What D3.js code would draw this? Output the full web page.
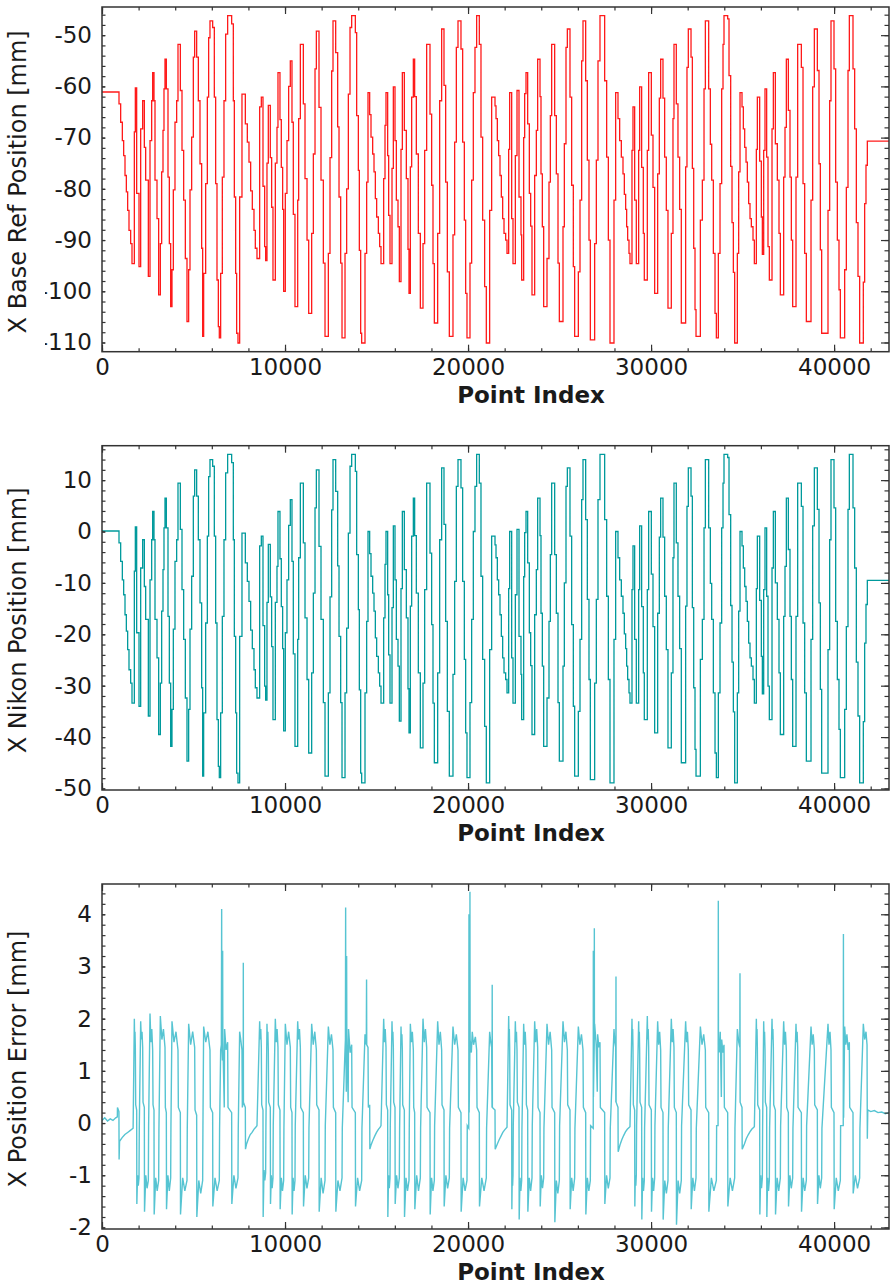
<!DOCTYPE html>
<html><head><meta charset="utf-8">
<script src="https://cdn.jsdelivr.net/npm/d3@7/dist/d3.min.js"></script>
<style>html,body{margin:0;padding:0;background:#fff;} svg text{font-family:"DejaVu Sans",sans-serif;fill:#1a1a1a;}</style>
</head><body>
<svg id="chart" width="892" height="1288"></svg>
<script>
const xTicks = [0, 10000, 20000, 30000, 40000];
const xLabel = "Point Index";
const yLabels = ["X Base Ref Position [mm]", "X Nikon Position [mm]", "X Position Error [mm]"];
const baseRefTicks = [-110, -100, -90, -80, -70, -60, -50];
const nikonTicks = [-50, -40, -30, -20, -10, 0, 10];
const errorTicks = [-2, -1, 0, 1, 2, 3, 4];

const baseRefSteps = [
[0,-61.1],[929,-63.4],[1020,-67.0],[1111,-70.6],[1184,-73.5],[1257,-77.4],[1330,-80.6],[1402,-84.2],[1475,-88.1],[1566,-90.7],[1639,-94.6],
[1767,-68.9],[1821,-60.3],[1894,-80.9],[2022,-95.2],
[2113,-68.3],[2222,-62.8],[2313,-71.9],[2386,-78.3],[2532,-97.1],
[2623,-70.6],[2714,-62.8],[2768,-57.3],[2841,-62.8],[2896,-78.3],[3005,-85.8],[3096,-100.7],
[3187,-90.7],[3260,-76.7],[3333,-68.6],[3387,-60.5],[3442,-54.7],[3515,-60.5],[3606,-77.7],[3679,-90.7],[3752,-103.0],
[3824,-95.8],[3897,-80.2],[3988,-67.0],[4079,-62.8],[4152,-51.8],[4280,-60.8],[4371,-72.5],[4462,-82.2],[4553,-93.6],[4644,-105.9],
[4735,-95.8],[4808,-80.2],[4899,-69.9],[4990,-54.3],[5063,-49.2],[5172,-54.3],[5263,-62.8],[5354,-75.1],[5445,-91.6],[5500,-108.8],
[5554,-96.5],[5664,-79.0],[5755,-62.1],[5827,-50.5],[5900,-47.2],[6046,-48.5],[6137,-62.1],[6210,-79.0],[6283,-97.8],[6356,-106.9],[6410,-109.1],
[6483,-96.5],[6574,-77.7],[6665,-62.8],[6756,-49.8],[6865,-46.2],[7084,-47.8],[7175,-62.8],[7230,-81.6],[7303,-96.5],[7357,-108.2],[7430,-110.1],
[7521,-81.6],[7648,-61.5],
[7831,-67.3],[7940,-70.9],[8031,-74.8],[8122,-80.4],[8213,-84.0],[8304,-88.1],[8377,-91.6],[8468,-93.6],
[8614,-64.0],[8705,-62.1],[8796,-79.5],[8887,-91.3],[8941,-94.0],
[9014,-75.0],[9087,-63.7],[9196,-73.9],[9269,-83.6],[9342,-97.8],
[9470,-75.0],[9561,-68.0],[9615,-57.3],[9724,-66.5],[9797,-75.8],[9870,-84.0],[9925,-100.0],
[10016,-80.9],[10107,-70.6],[10198,-60.0],[10289,-55.0],[10380,-67.0],[10453,-85.0],[10544,-103.0],
[10692,-82.2],[10746,-66.3],[10837,-51.8],[11001,-63.4],[11092,-78.0],[11202,-90.0],[11293,-104.3],
[11456,-88.7],[11548,-73.2],[11639,-56.6],[11712,-49.2],[11857,-64.1],[11966,-78.3],[12094,-94.5],[12185,-108.8],
[12367,-92.6],[12458,-73.9],[12549,-57.0],[12622,-47.2],[12768,-53.4],[12877,-67.9],[12950,-81.6],[13041,-94.5],[13114,-109.1],
[13278,-92.6],[13368,-80.0],[13460,-61.5],[13551,-48.5],[13642,-46.2],[13842,-49.5],[13915,-65.7],[14006,-76.4],[14060,-92.0],[14133,-108.2],[14188,-110.1],
[14370,-92.6],[14461,-78.7],[14534,-61.2],
[14625,-65.5],[14698,-69.9],[14789,-73.2],[14862,-76.7],[14935,-81.9],[15007,-85.5],[15099,-88.7],[15171,-91.3],[15244,-94.6],
[15390,-78.0],[15463,-67.6],[15517,-61.2],[15608,-73.5],[15663,-85.2],[15736,-94.6],
[15845,-76.0],[15918,-60.1],[16009,-70.6],[16082,-82.2],[16173,-87.4],[16246,-98.1],
[16337,-72.3],[16410,-57.3],[16519,-68.6],[16628,-78.0],[16719,-91.8],[16774,-100.4],
[16847,-75.7],[16920,-62.1],[17011,-54.7],[17083,-62.0],[17174,-73.2],[17283,-88.7],[17393,-103.3],
[17539,-90.7],[17630,-72.5],[17739,-51.8],[17921,-65.4],[18012,-79.3],[18085,-94.6],[18158,-106.2],
[18340,-88.7],[18449,-62.8],[18558,-48.8],[18686,-59.8],[18777,-78.7],[18868,-96.2],[18977,-108.8],
[19177,-89.0],[19268,-70.9],[19360,-52.4],[19451,-47.2],[19614,-52.7],[19705,-70.9],[19797,-86.1],[19869,-100.4],[19942,-109.1],
[20106,-94.5],[20197,-78.3],[20288,-61.2],[20379,-52.4],[20470,-46.2],[20616,-51.8],[20707,-69.9],[20798,-86.1],[20907,-99.1],[20998,-110.1],
[21181,-84.2],[21290,-62.1],
[21473,-63.8],[21528,-66.3],[21600,-70.6],[21673,-73.5],[21746,-77.4],[21819,-81.6],[21892,-85.8],[21965,-88.7],[22056,-90.0],[22129,-92.6],
[22220,-72.3],[22274,-61.2],[22384,-85.8],[22456,-94.6],
[22584,-73.5],[22675,-60.8],[22784,-81.6],[22893,-89.0],[22930,-97.8],
[23039,-70.0],[23094,-61.4],[23167,-57.3],[23258,-67.3],[23349,-80.9],[23422,-87.3],[23494,-100.7],
[23640,-77.4],[23731,-68.6],[23804,-54.7],[23932,-62.0],[23986,-77.1],[24059,-87.4],[24132,-103.0],
[24314,-93.6],[24423,-78.7],[24496,-65.7],[24569,-51.8],[24733,-65.7],[24824,-77.1],[24915,-94.5],[24988,-105.9],
[25188,-87.4],[25261,-71.2],[25352,-52.4],[25425,-48.8],[25570,-62.1],[25661,-79.3],[25752,-95.2],[25825,-108.8],
[26026,-96.2],[26117,-82.2],[26208,-55.0],[26281,-47.2],[26427,-58.9],[26517,-74.4],[26608,-90.0],[26681,-109.5],
[26918,-90.7],[27009,-74.4],[27100,-55.0],[27209,-46.2],[27464,-58.9],[27574,-73.8],[27665,-90.0],[27756,-110.1],
[27974,-82.2],[28065,-61.2],
[28193,-66.3],[28284,-70.6],[28375,-73.8],[28466,-77.1],[28539,-81.1],[28611,-84.0],[28666,-87.4],[28721,-90.0],[28794,-92.6],[28848,-94.6],
[28957,-72.5],[29012,-64.0],[29103,-82.2],[29194,-94.6],
[29322,-72.5],[29376,-60.1],[29485,-75.8],[29576,-88.7],[29631,-97.8],
[29795,-72.5],[29868,-57.3],[30014,-69.5],[30105,-79.7],[30196,-100.4],
[30360,-77.1],[30451,-62.3],[30524,-54.7],[30651,-62.3],[30742,-73.8],[30833,-84.2],[30924,-103.3],
[31106,-88.7],[31197,-66.3],[31252,-51.8],[31379,-63.4],[31470,-73.8],[31561,-84.0],[31652,-106.2],
[31889,-75.7],[31962,-56.3],[32035,-48.8],[32183,-54.3],[32256,-76.0],[32329,-91.6],[32401,-103.6],[32456,-108.8],
[32693,-86.1],[32802,-78.3],[32893,-60.5],[32966,-47.2],[33148,-60.5],[33239,-71.3],[33312,-78.3],[33403,-92.6],[33494,-104.3],[33567,-109.1],
[33676,-92.6],[33767,-79.0],[33858,-60.5],[33931,-51.8],[33985,-46.2],[34186,-46.8],[34259,-57.9],[34350,-75.6],[34423,-86.6],[34496,-96.3],[34568,-110.1],
[34714,-92.6],[34787,-76.7],[34860,-61.2],
[34969,-64.0],[35042,-68.3],[35115,-71.9],[35188,-74.8],[35260,-78.7],[35333,-82.9],[35406,-85.8],[35479,-87.4],[35570,-90.0],[35643,-94.6],
[35752,-72.3],[35807,-62.1],[35934,-74.6],[36025,-85.5],[36080,-92.8],
[36153,-72.5],[36225,-60.5],[36316,-73.8],[36389,-91.3],[36462,-97.8],
[36608,-68.3],[36681,-57.3],[36790,-71.2],[36899,-78.3],[36990,-88.7],[37063,-100.7],
[37245,-77.7],[37318,-68.0],[37391,-54.7],[37500,-64.7],[37591,-77.7],[37664,-90.0],[37737,-103.0],
[37919,-77.7],[38010,-51.8],[38211,-56.3],[38302,-79.0],[38393,-92.6],[38484,-105.9],
[38739,-82.2],[38830,-60.1],[38921,-48.8],[39085,-56.9],[39176,-75.1],[39248,-91.9],[39321,-108.2],
[39667,-84.2],[39758,-62.8],[39831,-47.2],[39995,-56.6],[40086,-78.7],[40177,-90.0],[40268,-99.7],[40341,-109.1],
[40578,-95.8],[40669,-79.7],[40760,-56.9],[40833,-46.2],[41033,-56.6],[41124,-68.3],[41215,-86.6],[41306,-97.1],[41397,-110.1],
[41597,-98.2],[41670,-82.9],[41743,-75.4],[41816,-70.7],[43000,-70.7]
];

const nikonSteps = [
[0,0.1],[929,-2.2],[1020,-5.8],[1111,-9.4],[1184,-12.3],[1257,-16.2],[1330,-19.4],[1402,-23.0],[1475,-26.9],[1566,-29.5],[1639,-33.4],
[1767,-7.7],[1821,0.9],[1894,-19.7],[2022,-34.0],
[2113,-7.1],[2222,-1.6],[2313,-10.7],[2386,-17.1],[2532,-35.9],
[2623,-9.4],[2714,-1.6],[2768,3.9],[2841,-1.6],[2896,-17.1],[3005,-24.6],[3096,-39.5],
[3187,-29.5],[3260,-15.5],[3333,-7.4],[3387,0.7],[3442,6.5],[3515,0.7],[3606,-16.5],[3679,-29.5],[3752,-41.8],
[3824,-34.6],[3897,-19.0],[3988,-5.8],[4079,-1.6],[4152,9.4],[4280,0.4],[4371,-11.3],[4462,-21.0],[4553,-32.4],[4644,-44.7],
[4735,-34.6],[4808,-19.0],[4899,-8.7],[4990,6.9],[5063,12.0],[5172,6.9],[5263,-1.6],[5354,-13.9],[5445,-30.4],[5500,-47.6],
[5554,-35.3],[5664,-17.8],[5755,-0.9],[5827,10.7],[5900,14.0],[6046,12.7],[6137,-0.9],[6210,-17.8],[6283,-36.6],[6356,-45.7],[6410,-47.9],
[6483,-35.3],[6574,-16.5],[6665,-1.6],[6756,11.4],[6865,15.0],[7084,13.4],[7175,-1.6],[7230,-20.4],[7303,-35.3],[7357,-47.0],[7430,-48.9],
[7521,-20.4],[7648,-0.3],
[7831,-6.1],[7940,-9.7],[8031,-13.6],[8122,-19.2],[8213,-22.8],[8304,-26.9],[8377,-30.4],[8468,-32.4],
[8614,-2.8],[8705,-0.9],[8796,-18.3],[8887,-30.1],[8941,-32.8],
[9014,-13.8],[9087,-2.5],[9196,-12.7],[9269,-22.4],[9342,-36.6],
[9470,-13.8],[9561,-6.8],[9615,3.9],[9724,-5.3],[9797,-14.6],[9870,-22.8],[9925,-38.8],
[10016,-19.7],[10107,-9.4],[10198,1.2],[10289,6.2],[10380,-5.8],[10453,-23.8],[10544,-41.8],
[10692,-21.0],[10746,-5.1],[10837,9.4],[11001,-2.2],[11092,-16.8],[11202,-28.8],[11293,-43.1],
[11456,-27.5],[11548,-12.0],[11639,4.6],[11712,12.0],[11857,-2.9],[11966,-17.1],[12094,-33.3],[12185,-47.6],
[12367,-31.4],[12458,-12.7],[12549,4.2],[12622,14.0],[12768,7.8],[12877,-6.7],[12950,-20.4],[13041,-33.3],[13114,-47.9],
[13278,-31.4],[13368,-18.8],[13460,-0.3],[13551,12.7],[13642,15.0],[13842,11.7],[13915,-4.5],[14006,-15.2],[14060,-30.8],[14133,-47.0],[14188,-48.9],
[14370,-31.4],[14461,-17.5],[14534,0.0],
[14625,-4.3],[14698,-8.7],[14789,-12.0],[14862,-15.5],[14935,-20.7],[15007,-24.3],[15099,-27.5],[15171,-30.1],[15244,-33.4],
[15390,-16.8],[15463,-6.4],[15517,0.0],[15608,-12.3],[15663,-24.0],[15736,-33.4],
[15845,-14.8],[15918,1.1],[16009,-9.4],[16082,-21.0],[16173,-26.2],[16246,-36.9],
[16337,-11.1],[16410,3.9],[16519,-7.4],[16628,-16.8],[16719,-30.6],[16774,-39.2],
[16847,-14.5],[16920,-0.9],[17011,6.5],[17083,-0.8],[17174,-12.0],[17283,-27.5],[17393,-42.1],
[17539,-29.5],[17630,-11.3],[17739,9.4],[17921,-4.2],[18012,-18.1],[18085,-33.4],[18158,-45.0],
[18340,-27.5],[18449,-1.6],[18558,12.4],[18686,1.4],[18777,-17.5],[18868,-35.0],[18977,-47.6],
[19177,-27.8],[19268,-9.7],[19360,8.8],[19451,14.0],[19614,8.5],[19705,-9.7],[19797,-24.9],[19869,-39.2],[19942,-47.9],
[20106,-33.3],[20197,-17.1],[20288,0.0],[20379,8.8],[20470,15.0],[20616,9.4],[20707,-8.7],[20798,-24.9],[20907,-37.9],[20998,-48.9],
[21181,-23.0],[21290,-0.9],
[21473,-2.6],[21528,-5.1],[21600,-9.4],[21673,-12.3],[21746,-16.2],[21819,-20.4],[21892,-24.6],[21965,-27.5],[22056,-28.8],[22129,-31.4],
[22220,-11.1],[22274,0.0],[22384,-24.6],[22456,-33.4],
[22584,-12.3],[22675,0.4],[22784,-20.4],[22893,-27.8],[22930,-36.6],
[23039,-8.8],[23094,-0.2],[23167,3.9],[23258,-6.1],[23349,-19.7],[23422,-26.1],[23494,-39.5],
[23640,-16.2],[23731,-7.4],[23804,6.5],[23932,-0.8],[23986,-15.9],[24059,-26.2],[24132,-41.8],
[24314,-32.4],[24423,-17.5],[24496,-4.5],[24569,9.4],[24733,-4.5],[24824,-15.9],[24915,-33.3],[24988,-44.7],
[25188,-26.2],[25261,-10.0],[25352,8.8],[25425,12.4],[25570,-0.9],[25661,-18.1],[25752,-34.0],[25825,-47.6],
[26026,-35.0],[26117,-21.0],[26208,6.2],[26281,14.0],[26427,2.3],[26517,-13.2],[26608,-28.8],[26681,-48.3],
[26918,-29.5],[27009,-13.2],[27100,6.2],[27209,15.0],[27464,2.3],[27574,-12.6],[27665,-28.8],[27756,-48.9],
[27974,-21.0],[28065,0.0],
[28193,-5.1],[28284,-9.4],[28375,-12.6],[28466,-15.9],[28539,-19.9],[28611,-22.8],[28666,-26.2],[28721,-28.8],[28794,-31.4],[28848,-33.4],
[28957,-11.3],[29012,-2.8],[29103,-21.0],[29194,-33.4],
[29322,-11.3],[29376,1.1],[29485,-14.6],[29576,-27.5],[29631,-36.6],
[29795,-11.3],[29868,3.9],[30014,-8.3],[30105,-18.5],[30196,-39.2],
[30360,-15.9],[30451,-1.1],[30524,6.5],[30651,-1.1],[30742,-12.6],[30833,-23.0],[30924,-42.1],
[31106,-27.5],[31197,-5.1],[31252,9.4],[31379,-2.2],[31470,-12.6],[31561,-22.8],[31652,-45.0],
[31889,-14.5],[31962,4.9],[32035,12.4],[32183,6.9],[32256,-14.8],[32329,-30.4],[32401,-42.4],[32456,-47.6],
[32693,-24.9],[32802,-17.1],[32893,0.7],[32966,14.0],[33148,0.7],[33239,-10.1],[33312,-17.1],[33403,-31.4],[33494,-43.1],[33567,-47.9],
[33676,-31.4],[33767,-17.8],[33858,0.7],[33931,9.4],[33985,15.0],[34186,14.4],[34259,3.3],[34350,-14.4],[34423,-25.4],[34496,-35.1],[34568,-48.9],
[34714,-31.4],[34787,-15.5],[34860,0.0],
[34969,-2.8],[35042,-7.1],[35115,-10.7],[35188,-13.6],[35260,-17.5],[35333,-21.7],[35406,-24.6],[35479,-26.2],[35570,-28.8],[35643,-33.4],
[35752,-11.1],[35807,-0.9],[35934,-13.4],[36025,-24.3],[36080,-31.6],
[36153,-11.3],[36225,0.7],[36316,-12.6],[36389,-30.1],[36462,-36.6],
[36608,-7.1],[36681,3.9],[36790,-10.0],[36899,-17.1],[36990,-27.5],[37063,-39.5],
[37245,-16.5],[37318,-6.8],[37391,6.5],[37500,-3.5],[37591,-16.5],[37664,-28.8],[37737,-41.8],
[37919,-16.5],[38010,9.4],[38211,4.9],[38302,-17.8],[38393,-31.4],[38484,-44.7],
[38739,-21.0],[38830,1.1],[38921,12.4],[39085,4.3],[39176,-13.9],[39248,-30.7],[39321,-47.0],
[39667,-23.0],[39758,-1.6],[39831,14.0],[39995,4.6],[40086,-17.5],[40177,-28.8],[40268,-38.5],[40341,-47.9],
[40578,-34.6],[40669,-18.5],[40760,4.3],[40833,15.0],[41033,4.6],[41124,-7.1],[41215,-25.4],[41306,-35.9],[41397,-48.9],
[41597,-37.0],[41670,-21.7],[41743,-14.2],[41816,-9.5],[43000,-9.5]
];

const errorPoints = [
[0,0.05],[150,0.1],[300,0.04],[450,0.08],[600,0.05],[750,0.1],[838,0.12],[845,0.3],[925,0.22],[935,-0.7],[960,-0.35],[1100,-0.28],[1250,-0.22],[1400,-0.18],[1550,-0.14],[1700,-0.1],
[1767,2.0],[1785,1.55],[1803,1.75],[1821,1.45],[1841,0.35],[1894,0.25],[1904,-1.55],[1943,-1.0],[1982,-1.2],[2022,-1.05],[2037,-0.1],
[2113,1.95],[2150,1.6],[2186,1.75],[2222,1.45],[2242,0.4],[2313,0.3],[2323,-1.7],[2393,-1.0],[2463,-1.25],[2532,-1.1],[2547,-0.05],
[2623,2.1],[2671,1.55],[2720,1.8],[2768,1.4],[2788,0.35],[2841,0.25],[2851,-1.75],[2933,-1.05],[3015,-1.3],[3096,-1.1],[3111,-0.1],
[3187,2.05],[3272,1.6],[3357,1.8],[3442,1.45],[3462,0.3],[3515,0.2],[3525,-1.65],[3601,-1.0],[3677,-1.3],[3752,-1.05],[3767,-0.05],
[3824,1.95],[3933,1.55],[4043,1.75],[4152,1.4],[4172,0.3],[4280,0.2],[4290,-1.75],[4408,-1.05],[4526,-1.3],[4644,-1.1],[4659,-0.1],
[4735,1.9],[4844,1.5],[4954,1.75],[5063,1.45],[5083,0.25],[5172,0.15],[5182,-1.8],[5288,-1.1],[5394,-1.35],[5500,-1.1],[5515,-0.05],
[5554,1.85],[5669,1.55],[5785,1.75],[5900,1.4],[5920,0.3],[6046,0.2],[6056,-1.6],[6174,-1.05],[6292,-1.3],[6410,-1.1],[6425,-0.1],
[6483,1.4],[6520,1.5],[6538,4.1],[6548,1.5],[6580,1.2],[6592,3.3],[6602,1.6],[6680,0.3],[6700,1.8],[6780,1.4],[6865,1.55],[6885,0.3],[7084,0.2],[7094,-1.55],[7206,-1.0],[7318,-1.25],[7430,-1.05],[7445,-0.1],
[7521,1.75],[7580,1.6],[7648,1.4],[7668,0.3],[7715,0.4],[7721,3.07],[7727,0.4],[7831,0.3],[7840,-0.5],[7900,-0.4],[8000,-0.3],[8100,-0.22],[8200,-0.18],[8300,-0.12],[8400,-0.08],[8468,-0.05],
[8614,1.95],[8644,1.6],[8675,1.8],[8705,1.45],[8725,0.35],[8796,0.25],[8806,-1.8],[8851,-0.9],[8896,-1.1],[8941,-0.95],[8956,-0.05],
[9014,1.9],[9038,1.55],[9063,1.75],[9087,1.4],[9107,0.4],[9196,0.3],[9206,-1.55],[9251,-1.0],[9297,-1.25],[9342,-1.05],[9357,-0.05],
[9470,2.0],[9518,1.55],[9567,1.8],[9615,1.45],[9635,0.35],[9724,0.25],[9734,-1.65],[9798,-1.05],[9861,-1.3],[9925,-1.1],[9940,-0.1],
[10016,1.9],[10107,1.5],[10198,1.75],[10289,1.45],[10309,0.3],[10380,0.2],[10390,-1.75],[10441,-1.05],[10493,-1.3],[10544,-1.1],[10559,-0.05],
[10692,1.95],[10740,1.6],[10789,1.8],[10837,1.45],[10857,0.3],[11001,0.2],[11011,-1.6],[11105,-1.0],[11199,-1.25],[11293,-1.05],[11308,-0.1],
[11456,1.9],[11541,1.5],[11627,1.75],[11712,1.4],[11732,0.35],[11857,0.25],[11867,-1.7],[11973,-1.05],[12079,-1.35],[12185,-1.1],[12200,-0.05],
[12367,1.85],[12452,1.5],[12537,1.7],[12622,1.4],[12642,0.3],[12768,0.2],[12778,-1.7],[12890,-1.1],[13002,-1.3],[13114,-1.05],[13129,-0.1],
[13278,1.4],[13300,1.6],[13312,4.13],[13322,1.5],[13350,0.6],[13366,3.2],[13376,1.7],[13450,0.4],[13470,1.8],[13560,1.35],[13642,1.5],[13662,0.3],[13842,0.2],[13852,-1.6],[13964,-1.05],[14076,-1.3],[14188,-1.1],[14203,-0.1],
[14370,1.7],[14440,1.5],[14455,2.75],[14465,1.5],[14534,1.45],[14554,0.3],[14625,0.35],[14635,-0.5],[14700,-0.42],[14800,-0.33],[14900,-0.25],[15000,-0.18],[15100,-0.12],[15200,-0.08],[15244,-0.05],
[15390,2.0],[15432,1.55],[15475,1.8],[15517,1.45],[15537,0.35],[15608,0.25],[15618,-1.8],[15657,-1.0],[15697,-1.25],[15736,-1.05],[15751,-0.05],
[15845,1.95],[15869,1.6],[15894,1.75],[15918,1.45],[15938,0.4],[16009,0.3],[16019,-1.55],[16095,-1.0],[16170,-1.25],[16246,-1.05],[16261,-0.1],
[16337,1.85],[16361,1.5],[16386,1.7],[16410,1.4],[16430,0.35],[16519,0.25],[16529,-1.8],[16611,-1.05],[16692,-1.3],[16774,-1.1],[16789,-0.05],
[16847,1.9],[16902,1.55],[16956,1.75],[17011,1.4],[17031,0.3],[17083,0.2],[17093,-1.65],[17193,-1.0],[17293,-1.3],[17393,-1.05],[17408,-0.1],
[17539,2.0],[17606,1.55],[17672,1.8],[17739,1.45],[17759,0.3],[17921,0.2],[17931,-1.75],[18007,-1.05],[18082,-1.3],[18158,-1.1],[18173,-0.05],
[18340,1.95],[18413,1.5],[18485,1.75],[18558,1.4],[18578,0.35],[18686,0.25],[18696,-1.6],[18790,-1.0],[18883,-1.25],[18977,-1.05],[18992,-0.1],
[19177,1.85],[19268,1.5],[19360,1.7],[19451,1.4],[19471,0.3],[19614,0.2],[19624,-1.7],[19730,-1.05],[19836,-1.3],[19942,-1.1],[19957,-0.05],
[20040,-0.1],[20050,4.0],[20060,0.2],[20100,1.4],[20104,4.43],[20112,1.6],[20180,1.35],[20230,1.75],[20300,1.5],[20400,1.65],[20470,1.4],[20490,0.3],[20616,0.2],[20626,-1.6],[20750,-1.05],[20874,-1.3],[20998,-1.05],[21013,-0.1],
[21181,1.75],[21240,1.55],[21290,1.45],[21310,0.3],[21320,2.65],[21330,0.3],[21473,0.25],[21483,-0.5],[21600,-0.4],[21700,-0.32],[21800,-0.25],[21900,-0.18],[22000,-0.13],[22129,-0.08],
[22220,2.05],[22238,1.6],[22256,1.8],[22274,1.45],[22294,0.35],[22384,0.25],[22394,-1.65],[22415,-1.0],[22435,-1.2],[22456,-1.0],[22471,-0.05],
[22584,1.95],[22614,1.55],[22645,1.75],[22675,1.4],[22695,0.4],[22784,0.3],[22794,-1.85],[22839,-1.05],[22885,-1.3],[22930,-1.1],[22945,-0.1],
[23039,1.9],[23082,1.5],[23124,1.75],[23167,1.4],[23187,0.35],[23258,0.25],[23268,-1.7],[23343,-1.05],[23419,-1.3],[23494,-1.05],[23509,-0.05],
[23640,1.95],[23695,1.55],[23749,1.8],[23804,1.45],[23824,0.3],[23932,0.2],[23942,-1.6],[24005,-1.0],[24069,-1.25],[24132,-1.05],[24147,-0.1],
[24314,1.9],[24399,1.5],[24484,1.75],[24569,1.4],[24589,0.3],[24733,0.2],[24743,-1.9],[24825,-1.1],[24906,-1.35],[24988,-1.1],[25003,-0.05],
[25188,1.95],[25267,1.55],[25346,1.75],[25425,1.4],[25445,0.35],[25570,0.25],[25580,-1.65],[25662,-1.05],[25743,-1.3],[25825,-1.05],[25840,-0.1],
[26026,1.85],[26111,1.5],[26196,1.7],[26281,1.4],[26301,0.3],[26427,0.2],[26437,-1.75],[26518,-1.05],[26600,-1.3],[26681,-1.1],[26696,-0.05],
[26840,-0.1],[26845,3.3],[26850,0.5],[26895,1.5],[26900,3.73],[26906,1.6],[26918,1.9],[27000,1.5],[27060,0.6],[27080,1.7],[27150,1.45],[27209,1.55],[27229,0.3],[27464,0.2],[27474,-1.55],[27568,-1.0],[27662,-1.25],[27756,-1.05],[27771,-0.1],
[27974,1.8],[28020,1.55],[28065,1.45],[28075,0.4],[28083,2.81],[28090,0.4],[28193,0.3],[28203,-0.55],[28300,-0.42],[28400,-0.32],[28500,-0.24],[28600,-0.17],[28700,-0.12],[28848,-0.07],
[28957,2.0],[28975,1.6],[28994,1.8],[29012,1.45],[29032,0.35],[29103,0.25],[29113,-1.6],[29140,-1.0],[29167,-1.2],[29194,-1.0],[29209,-0.05],
[29322,1.95],[29340,1.55],[29358,1.75],[29376,1.4],[29396,0.4],[29485,0.3],[29495,-1.85],[29540,-1.05],[29586,-1.3],[29631,-1.1],[29646,-0.1],
[29795,2.05],[29819,1.6],[29844,1.8],[29868,1.45],[29888,0.35],[30014,0.25],[30024,-1.7],[30081,-1.05],[30139,-1.3],[30196,-1.05],[30211,-0.05],
[30360,1.95],[30415,1.5],[30469,1.75],[30524,1.4],[30544,0.3],[30651,0.2],[30661,-1.85],[30749,-1.1],[30836,-1.35],[30924,-1.1],[30939,-0.1],
[31106,2.0],[31155,1.55],[31203,1.8],[31252,1.45],[31272,0.3],[31379,0.2],[31389,-1.95],[31477,-1.1],[31564,-1.35],[31652,-1.1],[31667,-0.05],
[31889,1.95],[31938,1.55],[31986,1.75],[32035,1.4],[32055,0.35],[32183,0.25],[32193,-1.65],[32281,-1.05],[32368,-1.3],[32456,-1.05],[32471,-0.1],
[32693,1.85],[32784,1.5],[32875,1.7],[32966,1.4],[32986,0.3],[33148,0.2],[33158,-1.7],[33294,-1.05],[33431,-1.3],[33567,-1.1],[33582,-0.05],
[33660,-0.05],[33668,1.5],[33674,4.26],[33682,1.6],[33720,1.35],[33780,1.75],[33840,0.5],[33860,1.6],[33920,1.35],[33985,1.5],[34005,0.3],[34186,0.2],[34196,-1.6],[34320,-1.05],[34444,-1.3],[34568,-1.05],[34583,-0.1],
[34714,1.8],[34790,1.55],[34850,1.45],[34858,2.87],[34866,0.4],[34969,0.3],[34979,-0.5],[35100,-0.4],[35200,-0.3],[35300,-0.23],[35400,-0.17],[35500,-0.12],[35643,-0.07],
[35752,2.0],[35770,1.6],[35789,1.8],[35807,1.45],[35827,0.35],[35934,0.25],[35944,-1.75],[35989,-1.0],[36035,-1.25],[36080,-1.05],[36095,-0.05],
[36153,1.95],[36177,1.55],[36201,1.75],[36225,1.4],[36245,0.4],[36316,0.3],[36326,-1.8],[36371,-1.05],[36417,-1.3],[36462,-1.1],[36477,-0.1],
[36608,2.0],[36632,1.6],[36657,1.8],[36681,1.45],[36701,0.35],[36790,0.25],[36800,-1.75],[36888,-1.05],[36975,-1.3],[37063,-1.05],[37078,-0.05],
[37245,1.95],[37294,1.5],[37342,1.75],[37391,1.4],[37411,0.3],[37500,0.2],[37510,-1.6],[37586,-1.0],[37661,-1.25],[37737,-1.05],[37752,-0.1],
[37919,1.9],[37949,1.55],[37980,1.75],[38010,1.45],[38030,0.3],[38211,0.2],[38221,-1.7],[38309,-1.05],[38396,-1.3],[38484,-1.1],[38499,-0.05],
[38739,1.85],[38800,1.5],[38860,1.7],[38921,1.4],[38941,0.35],[39085,0.25],[39095,-1.55],[39170,-1.0],[39246,-1.25],[39321,-1.05],[39336,-0.1],
[39667,1.9],[39722,1.5],[39776,1.75],[39831,1.4],[39851,0.3],[39995,0.2],[40005,-1.65],[40117,-1.05],[40229,-1.3],[40341,-1.1],[40356,-0.05],
[40500,-0.05],[40510,3.62],[40520,0.1],[40578,1.85],[40640,1.5],[40700,1.7],[40770,1.4],[40833,1.55],[40853,0.3],[41033,0.2],[41043,-1.35],[41161,-1.0],[41279,-1.25],[41397,-1.05],[41412,-0.1],
[41597,1.9],[41670,1.6],[41743,1.75],[41800,1.5],[41816,-0.3],[41840,0.25],[42000,0.22],[42200,0.24],[42400,0.2],[42600,0.21],[42800,0.18],[43000,0.2]
];

const svg = d3.select('#chart');
const L = 102, R = 889;
const x = d3.scaleLinear().domain([0, 43000]).range([L, R]);
const fmt = d => String(d);

const panels = [
  {top: 7, bottom: 351.7, domain: [-111.8, -44.5], ticks: baseRefTicks, minor: 2, color: '#ff1a1a', width: 1.3, label: yLabels[0], pts: baseRefSteps, curve: d3.curveStepAfter},
  {top: 445.7, bottom: 790, domain: [-50.3, 16.7], ticks: nikonTicks, minor: 2, color: '#009a9c', width: 1.3, label: yLabels[1], pts: nikonSteps, curve: d3.curveStepAfter},
  {top: 884, bottom: 1229, domain: [-2.03, 4.58], ticks: errorTicks, minor: 0.2, color: '#56c4d2', width: 1.4, label: yLabels[2], pts: errorPoints, curve: d3.curveLinear}
];

svg.append('clipPath').attr('id', 'labelClip').append('rect')
  .attr('x', 45).attr('y', 0).attr('width', 60).attr('height', 1288);

panels.forEach((p, i) => {
  const y = d3.scaleLinear().domain(p.domain).range([p.bottom, p.top]);
  const g = svg.append('g');
  const cid = 'clip' + i;
  svg.append('clipPath').attr('id', cid).append('rect')
    .attr('x', L).attr('y', p.top).attr('width', R - L).attr('height', p.bottom - p.top);

  g.append('path').datum(p.pts)
    .attr('clip-path', `url(#${cid})`)
    .attr('fill', 'none').attr('stroke', p.color).attr('stroke-width', p.width)
    .attr('stroke-linejoin', 'miter')
    .attr('d', d3.line().x(d => x(d[0])).y(d => y(d[1])).curve(p.curve));

  const xMinor = d3.range(0, 43001, 2000);
  const yMinor = d3.range(Math.ceil(p.domain[0] / p.minor) * p.minor, p.domain[1], p.minor).map(v => +v.toFixed(3));

  const styleAxis = sel => { sel.select('.domain').remove(); sel.selectAll('line').attr('stroke', '#333').attr('stroke-width', 1.2); };

  // bottom
  g.append('g').attr('transform', `translate(0,${p.bottom})`)
    .call(d3.axisBottom(x).tickValues(xMinor).tickSize(-3.5).tickFormat('')).call(styleAxis);
  g.append('g').attr('transform', `translate(0,${p.bottom})`)
    .call(d3.axisBottom(x).tickValues(xTicks).tickSize(-7).tickPadding(7).tickFormat(fmt)).call(styleAxis)
    .selectAll('text').style('font-size', '23px').attr('fill', '#1a1a1a');
  // top
  g.append('g').attr('transform', `translate(0,${p.top})`)
    .call(d3.axisTop(x).tickValues(xMinor).tickSize(-3.5).tickFormat('')).call(styleAxis);
  g.append('g').attr('transform', `translate(0,${p.top})`)
    .call(d3.axisTop(x).tickValues(xTicks).tickSize(-7).tickFormat('')).call(styleAxis);
  // left
  g.append('g').attr('transform', `translate(${L},0)`)
    .call(d3.axisLeft(y).tickValues(yMinor).tickSize(-3.5).tickFormat('')).call(styleAxis);
  const leftAxis = g.append('g').attr('transform', `translate(${L},0)`)
    .call(d3.axisLeft(y).tickValues(p.ticks).tickSize(-7).tickPadding(10).tickFormat(fmt)).call(styleAxis);
  leftAxis.selectAll('text').style('font-size', '23px').attr('fill', '#1a1a1a');
  g.append('g').attr('clip-path', 'url(#labelClip)').node().appendChild(leftAxis.node());
  // right
  g.append('g').attr('transform', `translate(${R},0)`)
    .call(d3.axisRight(y).tickValues(yMinor).tickSize(-4.5).tickFormat('')).call(styleAxis);
  g.append('g').attr('transform', `translate(${R},0)`)
    .call(d3.axisRight(y).tickValues(p.ticks).tickSize(-8).tickFormat('')).call(styleAxis);

  // frame
  g.append('rect').attr('x', L).attr('y', p.top).attr('width', R - L).attr('height', p.bottom - p.top)
    .attr('fill', 'none').attr('stroke', '#333').attr('stroke-width', 1.5);

  // titles
  g.append('text').attr('x', 531).attr('y', p.bottom + 51)
    .attr('text-anchor', 'middle').style('font-size', '23px').style('font-weight', 'bold').text(xLabel);
  g.append('text').attr('transform', `translate(25.5,${(p.top + p.bottom) / 2 + 2.5}) rotate(-90)`)
    .attr('text-anchor', 'middle').style('font-size', '24px').text(p.label);
});
</script>
</body></html>
